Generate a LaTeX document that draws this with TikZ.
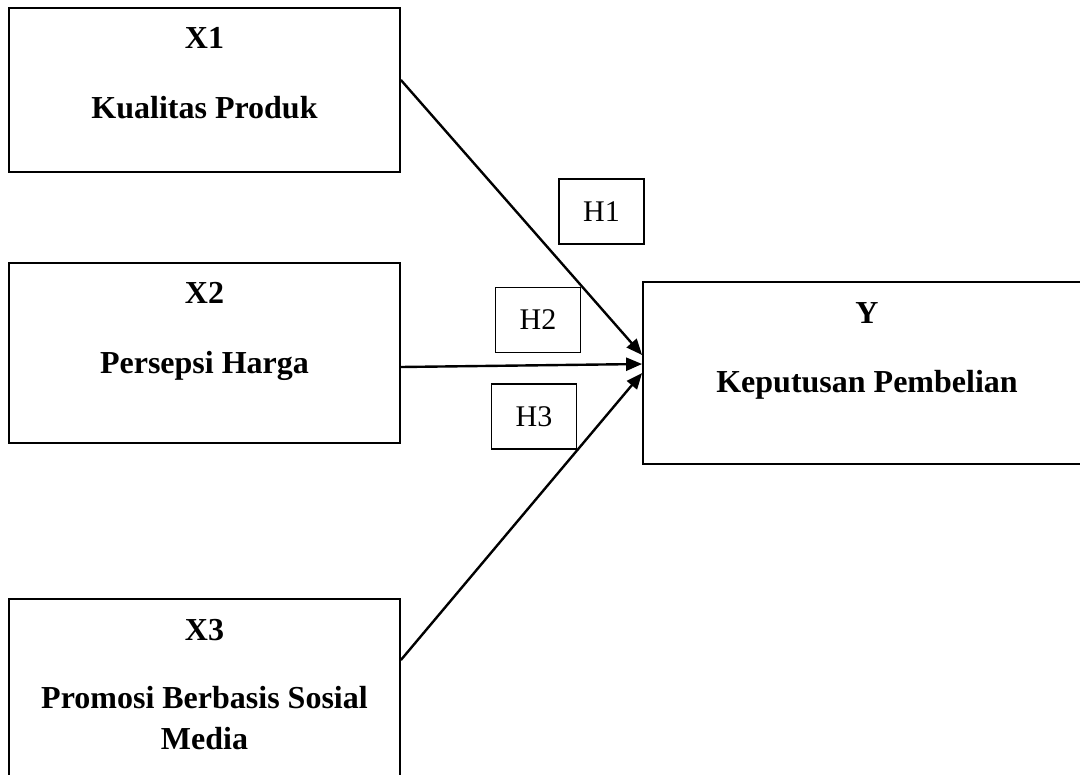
\documentclass[tikz,border=0pt]{standalone}
\usepackage{fontspec}
\setmainfont{Liberation Serif}
\usetikzlibrary{arrows.meta}
\begin{document}
\begin{tikzpicture}[x=0.5pt,y=-0.5pt,
  box/.style={draw=black,line width=0.9pt,rectangle,inner sep=0pt},
  hbox/.style={draw=black,line width=0.8pt,rectangle,inner sep=0pt,
    minimum width=42.5pt,minimum height=32.5pt,font=\fontsize{15}{17}\selectfont},
  lbl/.style={anchor=base,inner sep=0pt,font=\fontsize{16}{18}\selectfont\bfseries},
  arr/.style={line width=1.2pt,-{Triangle[length=8pt,width=6.5pt]}}]
\useasboundingbox (0,0) rectangle (1080,775);
\begin{scope}
\clip (0,0) rectangle (1080,775);
% main boxes
\node[box,minimum width=195.5pt,minimum height=82pt] (x1) at (204.5,90) {};
\node[box,minimum width=195.5pt,minimum height=90pt] (x2) at (204.5,353) {};
\node[box,minimum width=195.5pt,minimum height=100pt] (x3) at (204.5,699) {};
\node[box,minimum width=224pt,minimum height=91pt] (y) at (867,373) {};
% texts
\node[lbl] (t1a) at (204.5,49) {X1};
\node[lbl] (t1b) at (204.5,119) {Kualitas Produk};
\node[lbl] (t2a) at (204.5,303) {X2};
\node[lbl] (t2b) at (204.5,373) {Persepsi Harga};
\node[lbl] (t3a) at (204.5,640) {X3};
\node[lbl] (t3b) at (204.5,708) {Promosi Berbasis Sosial};
\node[lbl] (t3c) at (204.5,749) {Media};
\node[lbl] (tya) at (867,323) {Y};
\node[lbl] (tyb) at (867,392) {Keputusan Pembelian};
% hypothesis boxes
\node[hbox] (h1) at (601.5,211.5) {H1};
\node[hbox] (h2) at (538,320) {H2};
\node[hbox] (h3) at (534,416.5) {H3};
% arrows
\draw[arr] ([yshift=5pt]x1.east) -- ([yshift=9pt]y.west);
\draw[arr] ([yshift=-7pt]x2.east) -- ([yshift=4.5pt]y.west);
\draw[arr] ([yshift=19.5pt]x3.east) -- ([yshift=0pt]y.west);
\end{scope}
\end{tikzpicture}
\end{document}
